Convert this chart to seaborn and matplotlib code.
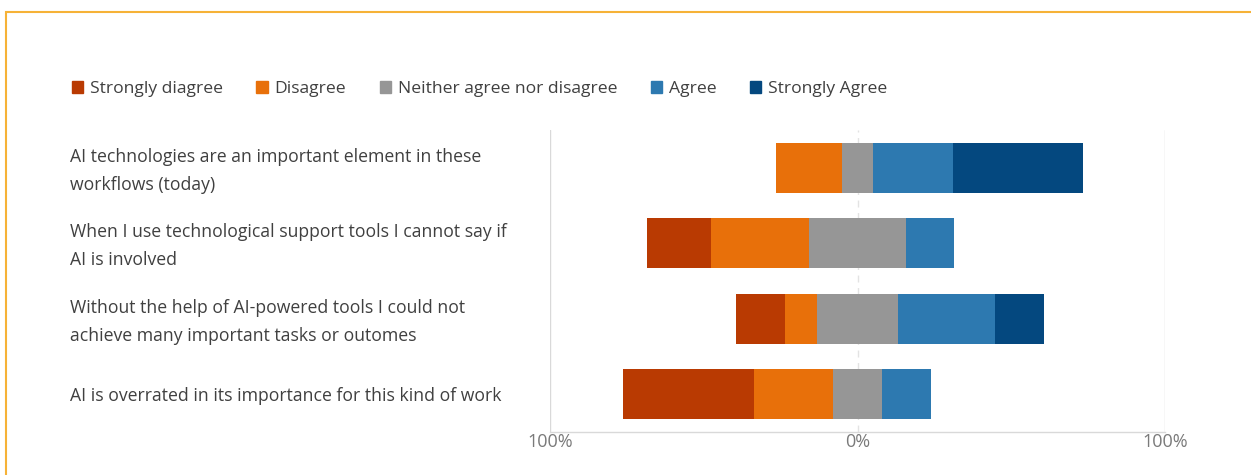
import matplotlib
matplotlib.use("Agg")
import matplotlib.pyplot as plt
import matplotlib.patches as mpatches
import matplotlib.transforms as mtransforms
import seaborn as sns
import pandas as pd
import numpy as np

categories = [
    "AI technologies are an important element in these\nworkflows (today)",
    "When I use technological support tools I cannot say if\nAI is involved",
    "Without the help of AI-powered tools I could not\nachieve many important tasks or outomes",
    "AI is overrated in its importance for this kind of work",
]
strongly_disagree = [0.0, 20.8, 15.8, 42.3]
disagree = [21.6, 32.0, 10.5, 25.8]
neutral = [10.0, 31.3, 26.3, 16.0]
agree = [26.2, 15.7, 31.5, 15.9]
strongly_agree = [42.2, 0.0, 15.9, 0.0]

series_names = ["Strongly diagree", "Disagree", "Neither agree nor disagree", "Agree", "Strongly Agree"]
colors = ["#B93A02", "#E8700A", "#969696", "#2D79B0", "#04487F"]
xtick_vals = [-100, 0, 100]
xtick_labels = ["100%", "0%", "100%"]

sns.set_theme(style="white")
plt.rcParams["font.family"] = ["Open Sans", "DejaVu Sans"]

W, H = 1251, 475
fig = plt.figure(figsize=(W / 100, H / 100), dpi=100)
ax = fig.add_axes([550 / W, (H - 432) / H, 615 / W, 302 / H])

sd = np.array(strongly_disagree)
d = np.array(disagree)
n = np.array(neutral)
a = np.array(agree)
sa = np.array(strongly_agree)

# Overlay bars from 0, outermost first
layers = [
    (n / 2 + a + sa, colors[4]),
    (n / 2 + a, colors[3]),
    (-(n / 2 + d + sd), colors[0]),
    (-(n / 2 + d), colors[1]),
    (n / 2, colors[2]),
    (-(n / 2), colors[2]),
]
for vals, col in layers:
    df = pd.DataFrame({"cat": categories, "val": vals})
    sns.barplot(data=df, x="val", y="cat", orient="h", color=col, width=0.66,
                saturation=1, ax=ax, linewidth=0, errorbar=None)

ax.set_xlim(-100, 100)
ax.set_ylim(3.5, -0.5)
ax.set_xlabel("")
ax.set_ylabel("")
for xv in [-100, 100]:
    ax.axvline(xv, color="#D9D9D9", lw=1, zorder=0)
ax.axvline(0, color="#E3E3E3", lw=1, ls=(0, (5, 4)), zorder=0)

for s in ["top", "right", "left"]:
    ax.spines[s].set_visible(False)
ax.spines["bottom"].set_color("#D9D9D9")
ax.spines["bottom"].set_linewidth(1)

ax.set_xticks(xtick_vals)
ax.set_xticklabels(xtick_labels, color="#7A7A7A", fontsize=13)
ax.tick_params(axis="x", length=0, pad=1)
ax.set_yticks(range(len(categories)))
ax.set_yticklabels(categories, ha="left", color="#404040", fontsize=12.7, linespacing=1.7)
ax.tick_params(axis="y", length=0, pad=480 * 0.72)
for lbl in ax.get_yticklabels():
    if "\n" in lbl.get_text():
        lbl.set_transform(lbl.get_transform() +
                          mtransforms.ScaledTranslation(0, 4 / 100, fig.dpi_scale_trans))

handles = [mpatches.Patch(color=c, label=l) for c, l in zip(colors, series_names)]
fig.legend(handles=handles, loc="center left", bbox_to_anchor=(56 / W, 1 - 89 / H),
           ncol=5, frameon=False, fontsize=12.6, handlelength=0.65, handleheight=0.65,
           handletextpad=0.4, columnspacing=1.9, labelcolor="#404040")

border = mpatches.Rectangle((6 / W, -0.1), 1.2, 1 - 12 / H + 0.1, transform=fig.transFigure,
                            fill=False, edgecolor="#F6B237", lw=1.5)
fig.patches.append(border)

fig.savefig("out.png", dpi=100, facecolor="white")
